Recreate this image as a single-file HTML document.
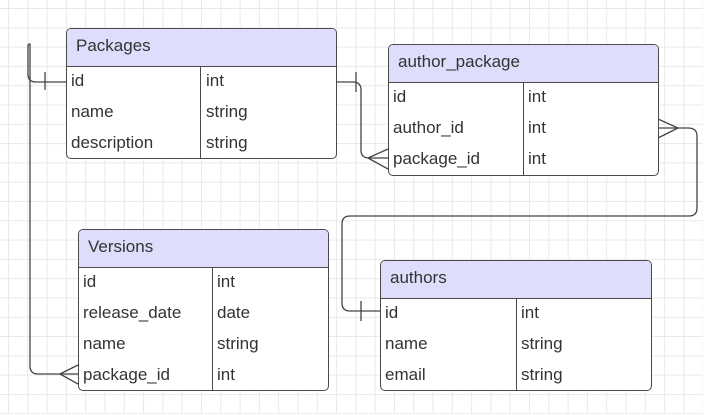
<!DOCTYPE html>
<html><head><meta charset="utf-8"><style>
body{margin:0;width:703px;height:414px;overflow:hidden;background:#fff;font-family:"Liberation Sans",sans-serif;}
.bg{position:absolute;left:0;top:0;width:703px;height:414px;
background-image:linear-gradient(#e9e9e9 1px,transparent 1px),linear-gradient(90deg,#e9e9e9 1px,transparent 1px);
background-size:19.3px 19.3px;background-position:8px 8px;}
.t{position:absolute;border:1.3px solid #4a4a4a;border-radius:5px;background:#fff;box-sizing:border-box;overflow:hidden;color:#333;font-size:17px;}
.h{background:#dedefc;border-bottom:1.3px solid #4a4a4a;height:38px;line-height:34px;padding-left:20px;font-size:17px;box-sizing:border-box;}
.r{position:relative;height:31px;line-height:28px;}
.r span{position:absolute;}
.d{position:absolute;top:38px;bottom:0;border-left:1.3px solid #4a4a4a;}
svg{position:absolute;left:0;top:0;}
</style></head><body>
<div class="bg"></div>
<svg width="703" height="414" fill="none" stroke="#444" stroke-width="1.3">
<path d="M66,82 H36 Q28,82 28,74 V46 Q28,44 30,44 Q30,44 30,48 V366 Q30,374 38,374 H78"/>
<path d="M45,72 V90"/>
<path d="M60,374 L78,365 M60,374 L78,384"/>
<path d="M336,82 H353 Q361,82 361,90 V150 Q361,158 369,158 H388"/>
<path d="M356,72 V92"/>
<path d="M368,158 L388,149 M368,158 L388,169"/>
<path d="M658,128 H688 Q697,128 697,136 V208 Q697,216 689,216 H350 Q342,216 342,224 V303 Q342,311 350,311 H380"/>
<path d="M361,301 V321"/>
<path d="M658,119 L678,128 L658,138"/>
</svg>
<div class="t" style="left:66px;top:28px;width:271px;height:131px;">
<div class="h" style="padding-left:9px">Packages</div><div class="d" style="left:133px"></div>
<div class="r"><span style="left:4px">id</span><span style="left:139px">int</span></div>
<div class="r"><span style="left:4px">name</span><span style="left:139px">string</span></div>
<div class="r"><span style="left:4px">description</span><span style="left:139px">string</span></div>
</div>
<div class="t" style="left:388px;top:44px;width:271px;height:132px;">
<div class="h" style="padding-left:9px">author_package</div><div class="d" style="left:134px"></div>
<div class="r"><span style="left:4px">id</span><span style="left:139px">int</span></div>
<div class="r"><span style="left:4px">author_id</span><span style="left:139px">int</span></div>
<div class="r"><span style="left:4px">package_id</span><span style="left:139px">int</span></div>
</div>
<div class="t" style="left:78px;top:229px;width:251px;height:162px;">
<div class="h" style="padding-left:9px">Versions</div><div class="d" style="left:133px"></div>
<div class="r"><span style="left:4px">id</span><span style="left:138px">int</span></div>
<div class="r"><span style="left:4px">release_date</span><span style="left:138px">date</span></div>
<div class="r"><span style="left:4px">name</span><span style="left:138px">string</span></div>
<div class="r"><span style="left:4px">package_id</span><span style="left:138px">int</span></div>
</div>
<div class="t" style="left:380px;top:260px;width:272px;height:131px;">
<div class="h" style="padding-left:9px">authors</div><div class="d" style="left:135px"></div>
<div class="r"><span style="left:4px">id</span><span style="left:140px">int</span></div>
<div class="r"><span style="left:4px">name</span><span style="left:140px">string</span></div>
<div class="r"><span style="left:4px">email</span><span style="left:140px">string</span></div>
</div>
</body></html>
